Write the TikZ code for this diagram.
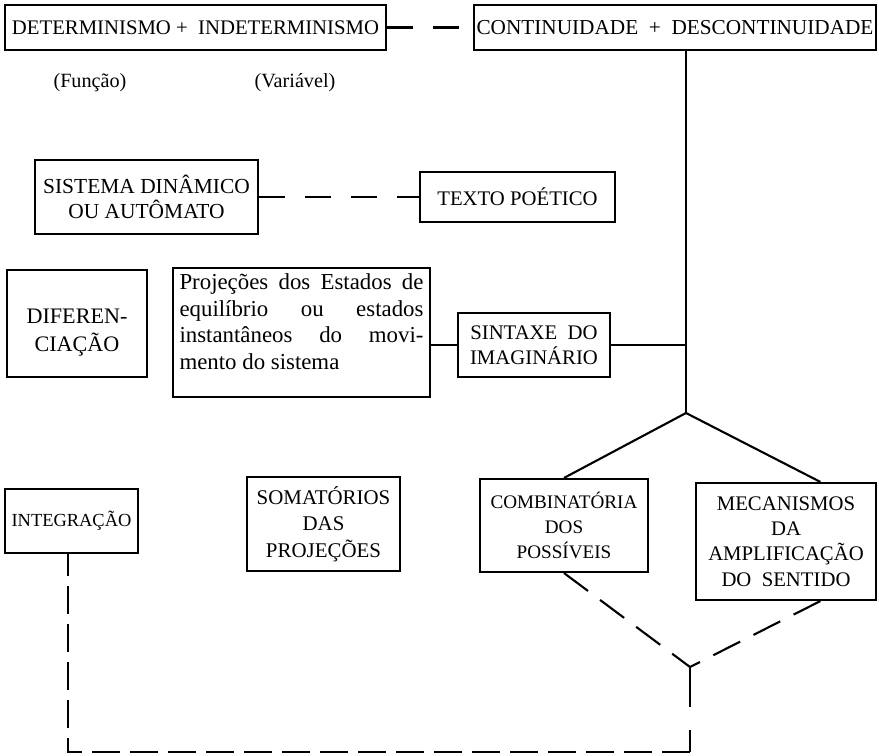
\documentclass[tikz,border=0pt]{standalone}
\usepackage{fontspec}
\setmainfont{Liberation Serif}

\tikzset{
  caixa/.style 2 args={draw, line width=1.2pt, inner sep=0pt, align=center,
    minimum width=#1*0.02cm, minimum height=#2*0.02cm,
    font=\fontsize{11.8}{14.4}\selectfont},
  liga/.style={line width=1.2pt},
  tracos/.style={line width=1.2pt, dash pattern=on 0.52cm off 0.4cm},
  tracosb/.style={line width=1.2pt, dash pattern=on 0.56cm off 0.2cm},
}

\begin{document}
\begin{tikzpicture}[x=0.02cm, y=-0.02cm]
\useasboundingbox (0,0) rectangle (879,756);

% em cima
\node[caixa={381}{45}, font=\fontsize{11.8}{13}\selectfont] (det) at (195.5,27.5) {DETERMINISMO +\ \ INDETERMINISMO};
\node[caixa={402}{45}, font=\fontsize{12.1}{13}\selectfont] (cont) at (675,27.5) {CONTINUIDADE\ \ +\ \ DESCONTINUIDADE};
\node[font=\fontsize{11.5}{13}\selectfont] (func) at (90,83) {(Função)};
\node[font=\fontsize{11.5}{13}\selectfont] (var) at (295,83) {(Variável)};
\draw[tracos] (det.east) -- (cont.west);

% sistema
\node[caixa={223}{74}, font=\fontsize{12.2}{14}\selectfont] (sis) at (146.5,197) {SISTEMA DINÂMICO\\OU AUTÔMATO};
\node[caixa={195}{50}] (tex) at (517.5,197) {TEXTO POÉTICO};
\draw[tracos] (sis.east) -- (tex.west);

% projecoes
\node[caixa={140}{107}, font=\fontsize{12.6}{16}\selectfont] (dif) at (77,323.5)
  {\raisebox{-0.16cm}[\height][\depth]{\begin{tabular}{@{}c@{}}DIFEREN-\\CIAÇÃO\end{tabular}}};
\node[caixa={257}{129}] (proj) at (301.5,332.5) {\parbox[c][2.34cm][t]{4.88cm}{\fontsize{13}{15.1}\selectfont
  \makebox[\linewidth][s]{Projeções dos Estados de}\\
  \makebox[\linewidth][s]{equilíbrio ou estados}\\
  \makebox[\linewidth][s]{instantâneos do movi-}\\
  mento do sistema}};
\node[caixa={152}{64}] (sin) at (534,345) {SINTAXE\ \ DO\\IMAGINÁRIO};
\coordinate (apex) at (686,413);
\draw[liga] (cont.south -| apex) -- (apex);
\draw[liga] (sin.west) -- (sin.west -| proj.east);
\draw[liga] (sin.east) -- (sin.east -| apex);

% em baixo
\node[caixa={133}{64}, font=\fontsize{10.5}{12.5}\selectfont] (int) at (71.5,521) {INTEGRAÇÃO};
\node[caixa={153}{94}, font=\fontsize{11.9}{15}\selectfont] (som) at (323.5,524) {SOMATÓRIOS\\DAS\\PROJEÇÕES};
\node[caixa={168}{93}, font=\fontsize{10.9}{14.2}\selectfont] (com) at (564,525.5) {COMBINATÓRIA\\DOS\\POSSÍVEIS};
\node[caixa={180}{117}] (mec) at (786,541.5) {MECANISMOS\\DA\\AMPLIFICAÇÃO\\DO\ \ SENTIDO};
\draw[liga] (apex) -- (com.north);
\draw[liga] (apex) -- (mec.60);

\coordinate (junta) at (690,667);
\coordinate (cr) at (690,752);
\coordinate (cl) at (68,752);
\draw[liga, dash pattern=on 0.6cm off 0.3cm] (com.south) -- (junta);
\draw[liga, dash pattern=on 0.6cm off 0.3cm] (mec.-60) -- (junta);
\draw[liga, dash pattern=on 0.8cm off 0.46cm] (junta) -- (cr);
\draw[tracosb] (cr) -- (cl) -- (int.south -| cl);
\end{tikzpicture}
\end{document}
